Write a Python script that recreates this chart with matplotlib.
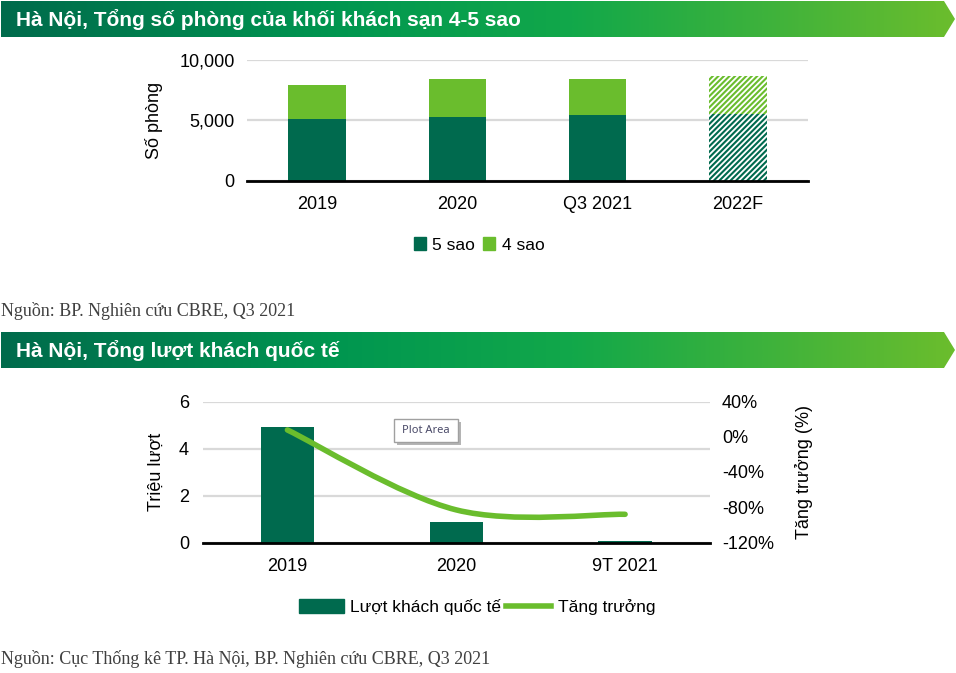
import numpy as np
import matplotlib
matplotlib.use("Agg")
import matplotlib.pyplot as plt
from matplotlib.path import Path
from matplotlib.patches import PathPatch, Polygon, Rectangle, Patch
from matplotlib.lines import Line2D
from matplotlib.colors import LinearSegmentedColormap

# ---------------- data ----------------
room_cats = ["2019", "2020", "Q3 2021", "2022F"]
rooms_5star = [5120, 5320, 5420, 5570]
rooms_4star = [2800, 3130, 3040, 3130]
forecast_flags = [False, False, False, True]

visitor_cats = ["2019", "2020", "9T 2021"]
visitors_mn = [4.92, 0.88, 0.07]
growth_pct = [7.7, -83, -88]

title1 = "Hà Nội, Tổng số phòng của khối khách sạn 4-5 sao"
title2 = "Hà Nội, Tổng lượt khách quốc tế"
source1 = "Nguồn: BP. Nghiên cứu CBRE, Q3 2021"
source2 = "Nguồn: Cục Thống kê TP. Hà Nội, BP. Nghiên cứu CBRE, Q3 2021"

DARK = "#006a4e"
LIGHT = "#6abd2d"
GRID = "#d9d9d9"
FS = 13

plt.rcParams["font.family"] = ["Liberation Sans", "DejaVu Sans"]
plt.rcParams["hatch.linewidth"] = 1.5

W, H = 956, 673
fig = plt.figure(figsize=(W / 100, H / 100), dpi=100)

def fx(px):
    return px / W

def fy(py):
    return 1 - py / H

# ---------------- top chart ----------------
ax1 = fig.add_axes([fx(247), fy(181), fx(808 - 247), (181 - 60) / H])
x1 = np.arange(len(room_cats))
bw1 = 0.41
for i in range(len(room_cats)):
    if forecast_flags[i]:
        ax1.bar(x1[i], rooms_5star[i], bw1, facecolor="white", edgecolor=DARK,
                hatch="//////", linewidth=0, zorder=3)
        ax1.bar(x1[i], rooms_4star[i], bw1, bottom=rooms_5star[i], facecolor="white",
                edgecolor=LIGHT, hatch="//////", linewidth=0, zorder=3)
    else:
        ax1.bar(x1[i], rooms_5star[i], bw1, color=DARK, linewidth=0, zorder=3)
        ax1.bar(x1[i], rooms_4star[i], bw1, bottom=rooms_5star[i], color=LIGHT,
                linewidth=0, zorder=3)
ax1.set_xlim(-0.5, len(room_cats) - 0.5)
ax1.set_ylim(0, 10000)
ax1.set_yticks([0, 5000, 10000])
ax1.set_yticklabels(["0", "5,000", "10,000"])
ax1.set_xticks(x1)
ax1.set_xticklabels(room_cats)
ax1.grid(axis="y", color=GRID, linewidth=1.6, zorder=0)
ax1.set_axisbelow(True)
for s in ["top", "right", "left"]:
    ax1.spines[s].set_visible(False)
ax1.spines["bottom"].set_linewidth(2)
ax1.spines["bottom"].set_zorder(5)
ax1.tick_params(axis="both", length=0, labelsize=FS, colors="black")
ax1.tick_params(axis="x", pad=11)
ax1.tick_params(axis="y", pad=9)
ax1.set_ylabel("Số phòng", fontsize=FS)
ax1.yaxis.set_label_coords(-0.15, 0.5)
ax1.legend(handles=[Patch(color=DARK, label="5 sao"), Patch(color=LIGHT, label="4 sao")],
           loc="center", bbox_to_anchor=((479 - 247) / 561, (181 - 245) / 121),
           ncol=2, frameon=False, fontsize=12.5, handlelength=0.72, handleheight=0.72,
           handletextpad=0.35, columnspacing=0.45)

# ---------------- bottom chart ----------------
ax2 = fig.add_axes([fx(203), fy(542.5), fx(709.5 - 203), (542.5 - 401.5) / H])
x2 = np.arange(len(visitor_cats))
ax2.bar(x2, visitors_mn, 0.315, color=DARK, linewidth=0, zorder=3)
ax2.set_xlim(-0.5, len(visitor_cats) - 0.5)
ax2.set_ylim(0, 6)
ax2.set_yticks([0, 2, 4, 6])
ax2.set_xticks(x2)
ax2.set_xticklabels(visitor_cats)
ax2.grid(axis="y", color=GRID, linewidth=1.6, zorder=0)
ax2.set_axisbelow(True)
for s in ["top", "right", "left"]:
    ax2.spines[s].set_visible(False)
ax2.spines["bottom"].set_linewidth(2)
ax2.spines["bottom"].set_zorder(5)
ax2.tick_params(axis="both", length=0, labelsize=FS, colors="black")
ax2.tick_params(axis="x", pad=11)
ax2.tick_params(axis="y", pad=10)
ax2.set_ylabel("Triệu lượt", fontsize=FS)
ax2.yaxis.set_label_coords(-0.075, 0.5)

ax3 = ax2.twinx()
ax3.set_ylim(-120, 40)
ax3.set_yticks([-120, -80, -40, 0, 40])
ax3.set_yticklabels([f"{v}%" for v in [-120, -80, -40, 0, 40]])
for s in ["top", "right", "left", "bottom"]:
    ax3.spines[s].set_visible(False)
ax3.tick_params(axis="y", length=0, labelsize=FS, pad=9)
ax3.set_ylabel("Tăng trưởng (%)", fontsize=FS, rotation=90)
ax3.yaxis.set_label_coords(1.169, 0.5)

# smooth (Excel-style) curve through the growth points
pts = np.column_stack([x2.astype(float), np.array(growth_pct, dtype=float)])
verts = [tuple(pts[0])]
codes = [Path.MOVETO]
n = len(pts)
k = 1 / 6
for i in range(n - 1):
    p0 = pts[max(i - 1, 0)]
    p1 = pts[i]
    p2 = pts[i + 1]
    p3 = pts[min(i + 2, n - 1)]
    c1 = p1 + (p2 - p0) * k
    c2 = p2 - (p3 - p1) * k
    verts += [tuple(c1), tuple(c2), tuple(p2)]
    codes += [Path.CURVE4] * 3
ax3.add_patch(PathPatch(Path(verts, codes), facecolor="none", edgecolor=LIGHT,
                        linewidth=4, capstyle="round", zorder=4))

ax2.legend(handles=[Patch(color=DARK, label="Lượt khách quốc tế"),
                    Line2D([], [], color=LIGHT, linewidth=4, label="Tăng trưởng")],
           loc="center", bbox_to_anchor=((477 - 203) / 506.5, (542.5 - 607) / 141),
           ncol=2, frameon=False, fontsize=12.5, handlelength=2.6, handleheight=0.9,
           handletextpad=0.35, columnspacing=0.3)

# ---------------- overlay: banners, sources, tooltip ----------------
bg = fig.add_axes([0, 0, 1, 1], zorder=10)
bg.patch.set_alpha(0)

cmap = LinearSegmentedColormap.from_list(
    "cbre", [(0.0, "#006b4c"), (0.35, "#009650"), (0.6, "#12a84a"), (0.8, "#3db23c"), (1.0, "#6bbd2d")])
grad = np.linspace(0, 1, 512).reshape(1, -1)

def banner(y0, y1, text):
    ym = (y0 + y1) / 2
    poly = Polygon([(1, y0), (944, y0), (955, ym), (944, y1), (1, y1)], closed=True,
                   facecolor="none", edgecolor="none", transform=bg.transData)
    bg.add_patch(poly)
    im = bg.imshow(grad, cmap=cmap, aspect="auto", extent=[1, 955, y1, y0], zorder=1,
                   interpolation="bilinear")
    im.set_clip_path(poly)
    bg.text(16, ym + 0.5, text, color="white", fontsize=15, fontweight="bold",
            va="center", ha="left", zorder=2)

banner(1, 37, title1)
banner(332, 368, title2)
bg.set_xlim(0, W)
bg.set_ylim(H, 0)
bg.axis("off")

bg.text(1, 311, source1, family=["Liberation Serif", "DejaVu Serif"], fontsize=13,
        color="#404040", va="center", ha="left")
bg.text(1, 659, source2, family=["Liberation Serif", "DejaVu Serif"], fontsize=13,
        color="#404040", va="center", ha="left")

# "Plot Area" tooltip
bg.add_patch(Rectangle((397, 421.5), 64.5, 23.5, facecolor="#b4b4b4", edgecolor="none", zorder=3))
bg.add_patch(Rectangle((394, 418.5), 64.5, 23.5, facecolor="white", edgecolor="#a0a0a0",
                       linewidth=1, zorder=4))
bg.text(426, 430.5, "Plot Area", fontsize=8, color="#4a4a68", ha="center", va="center",
        family=["Noto Sans", "DejaVu Sans"], zorder=5)

fig.savefig("out.png", dpi=100, facecolor="white")
